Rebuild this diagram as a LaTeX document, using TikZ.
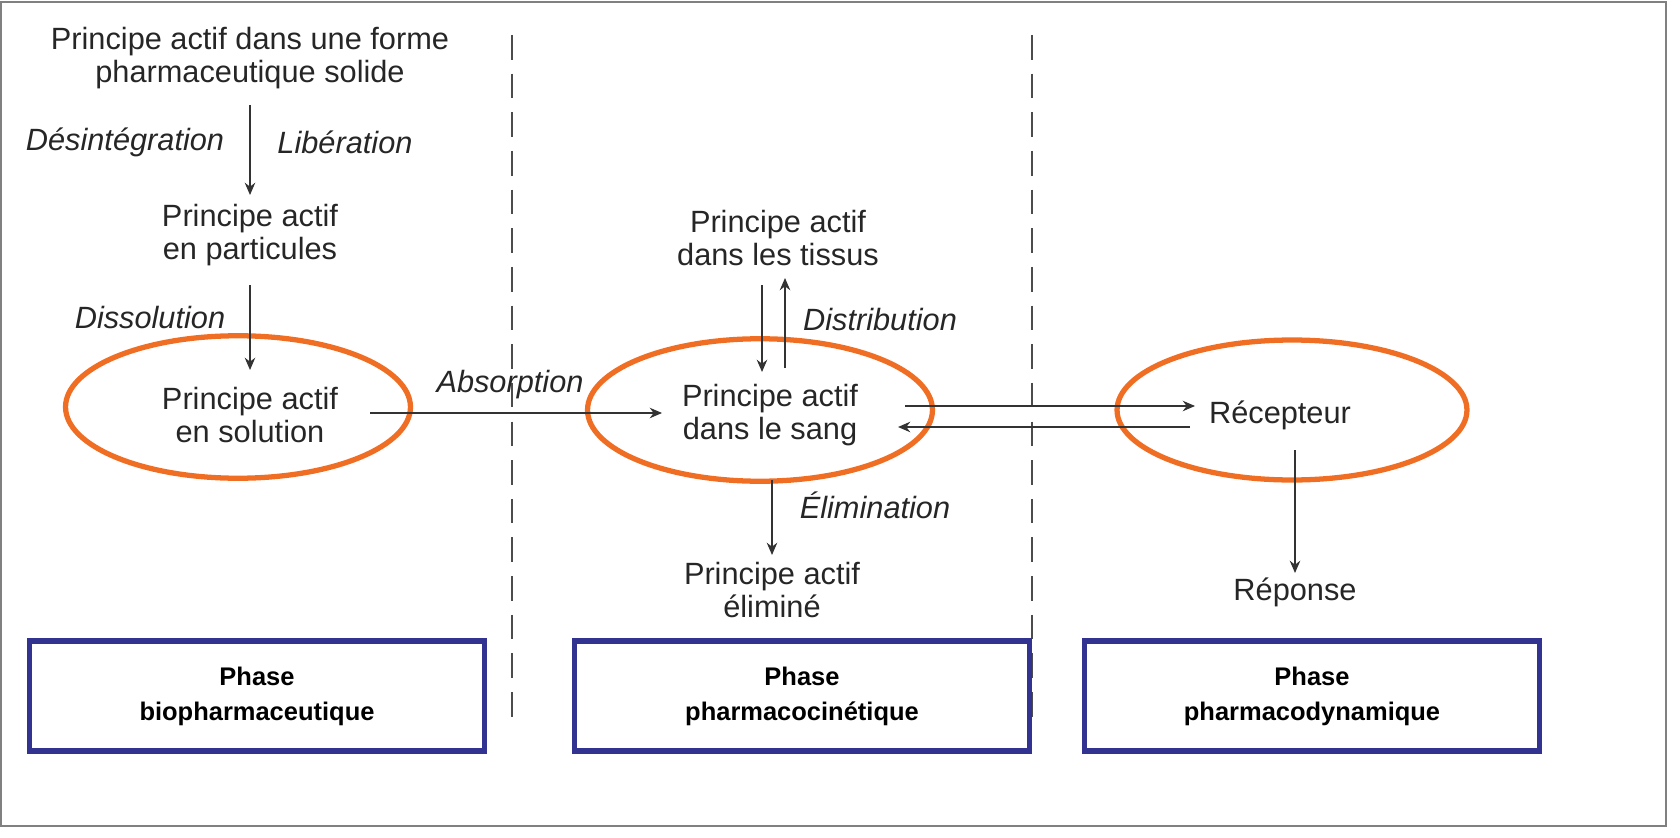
\documentclass[tikz,border=0pt]{standalone}
\usepackage{fontspec}
\setmainfont{Liberation Sans}
\usetikzlibrary{shapes.geometric,arrows.meta}
\definecolor{ovalorange}{RGB}{240,110,35}
\definecolor{phaseblue}{RGB}{50,50,145}
\tikzset{
  txt/.style={align=center,font=\fontsize{17.5}{19}\selectfont,text=black!85},
  lbl/.style={font=\fontsize{17.5}{19}\selectfont\itshape,text=black!85},
  oval/.style={draw=ovalorange,line width=3pt,ellipse,minimum width=6.9cm,minimum height=2.85cm},
  phase/.style={draw=phaseblue,line width=3pt,minimum width=9.1cm,minimum height=2.2cm,align=center,font=\fontsize{14.5}{20}\selectfont\bfseries},
  arr/.style={-{Stealth[length=7pt,width=6pt]},line width=0.8pt,black!80},
  sep/.style={dashed,dash pattern=on 14pt off 8pt,line width=0.7pt,black!70}
}
\begin{document}
\begin{tikzpicture}[x=0.02cm,y=-0.02cm]
\useasboundingbox (0,0) rectangle (1680,838);
\draw[black!50,line width=1pt] (1,2) rectangle (1666,826);
% separators
\draw[sep] (512,35) -- (512,725);
\draw[sep] (1032,35) -- (1032,725);
% ovals
\node[oval] (o1) at (238,407) {};
\node[oval] (o2) at (760,410) {};
\node[oval,minimum width=7cm,minimum height=2.8cm] (o3) at (1292,410) {};
% texts
\node[txt] (solide) at (250,58) {Principe actif dans une forme\\pharmaceutique solide};
\node[txt] (part) at (250,235) {Principe actif\\en particules};
\node[txt] (sol) at (250,415) {Principe actif\\en solution};
\node[txt] (sang) at (770,415) {Principe actif\\dans le sang};
\node[txt] (tissus) at (778,238) {Principe actif\\dans les tissus};
\node[txt] (elim) at (772,590) {Principe actif\\éliminé};
\node[txt] (recep) at (1280,415) {Récepteur};
\node[txt] (rep) at (1295,592) {Réponse};
% arrows
\coordinate (a1) at (250,105); \coordinate (a2) at (250,195);
\draw[arr] (a1) -- (a2);
\node[lbl] at (125,142) {Désintégration};
\node[lbl] at (345,142) {Libération};
\coordinate (b1) at (250,285); \coordinate (b2) at (250,370);
\draw[arr] (b1) -- (b2);
\node[lbl] at (150,318) {Dissolution};
\coordinate (c1) at (370,413); \coordinate (c2) at (662,413);
\draw[arr] (c1) -- (c2);
\node[lbl] at (510,385) {Absorption};
\coordinate (d1) at (762,285); \coordinate (d2) at (762,372);
\draw[arr] (d1) -- (d2);
\coordinate (e1) at (785,368); \coordinate (e2) at (785,278);
\draw[arr] (e1) -- (e2);
\node[lbl] at (880,320) {Distribution};
\coordinate (f1) at (772,480); \coordinate (f2) at (772,555);
\draw[arr] (f1) -- (f2);
\node[lbl] at (875,505) {Élimination};
\coordinate (g1) at (905,406); \coordinate (g2) at (1195,406);
\draw[arr] (g1) -- (g2);
\coordinate (h1) at (1190,427); \coordinate (h2) at (898,427);
\draw[arr] (h1) -- (h2);
\coordinate (k1) at (1295,450); \coordinate (k2) at (1295,573);
\draw[arr] (k1) -- (k2);
% phases
\node[phase] (p1) at (257,696) {Phase\\biopharmaceutique};
\node[phase] (p2) at (802,696) {Phase\\pharmacocinétique};
\node[phase] (p3) at (1312,696) {Phase\\pharmacodynamique};
\end{tikzpicture}
\end{document}
